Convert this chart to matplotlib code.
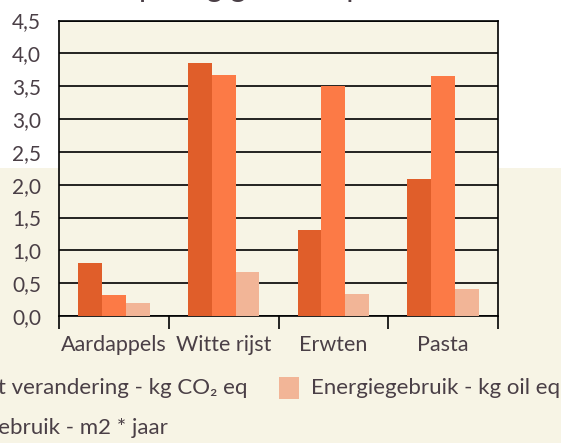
import matplotlib
matplotlib.use("Agg")
import matplotlib.pyplot as plt
from matplotlib.patches import Rectangle
import numpy as np

categories = ["Aardappels", "Witte rijst", "Erwten", "Pasta"]
klimaat = [0.80, 3.86, 1.31, 2.09]
land = [0.32, 3.67, 3.51, 3.65]
energie = [0.20, 0.67, 0.34, 0.41]
series_names = ["Klimaat verandering - kg CO\u2082 eq", "Landgebruik - m2 * jaar", "Energiegebruik - kg oil eq"]
yticks = [0.0, 0.5, 1.0, 1.5, 2.0, 2.5, 3.0, 3.5, 4.0, 4.5]
ytick_labels = ["0,0", "0,5", "1,0", "1,5", "2,0", "2,5", "3,0", "3,5", "4,0", "4,5"]

c_dark = "#E05E2A"
c_mid = "#FC7A46"
c_light = "#F2B597"
beige = "#F7F4E5"
txt = "#4A3F46"
FONT = ["Lato", "DejaVu Sans"]
plt.rcParams["font.family"] = FONT

W, H = 561, 443
fig = plt.figure(figsize=(W / 100, H / 100), dpi=100, facecolor="white")

def fx(px):
    return px / W

def fy(py):
    return 1 - py / H

# beige lower band (behind axes)
fig.patches.append(Rectangle((0, 0), 1, fy(168), transform=fig.transFigure,
                             facecolor=beige, edgecolor="none", zorder=-5))

ax = fig.add_axes([fx(59), fy(316), fx(498) - fx(59), fy(20.5) - fy(316)])
ax.set_zorder(2)
ax.set_facecolor(beige)

x = np.arange(len(categories))
bw = 0.217
ax.bar(x - bw, klimaat, bw, color=c_dark, zorder=3)
ax.bar(x, land, bw, color=c_mid, zorder=3)
ax.bar(x + bw, energie, bw, color=c_light, zorder=3)

ax.set_xlim(-0.5, 3.5)
ax.set_ylim(0, 4.5)
ax.set_yticks(yticks)
ax.set_yticklabels(ytick_labels, fontsize=15, color=txt)
ax.tick_params(axis="y", length=0, pad=13)
ax.yaxis.grid(True, color="black", linewidth=1.2, zorder=1)
ax.set_axisbelow(True)

ax.set_xticks(x)
ax.set_xticklabels(categories, fontsize=15.5, color=txt)
ax.tick_params(axis="x", which="major", length=0, pad=14)
ax.set_xticks(np.arange(-0.5, 4.0, 1.0), minor=True)
ax.tick_params(axis="x", which="minor", length=9, width=1.2, color="black")

for s in ax.spines.values():
    s.set_color("black")
    s.set_linewidth(1.2)

# partially visible title (only descenders show)
fig.text(fx(139), fy(-3.2), "per kg gekookt product", fontsize=22, color=txt,
         ha="left", va="baseline")
fig.text(fx(131), fy(-3.2), "Milieuscore", fontsize=22, color=txt,
         ha="right", va="baseline")

# legend (partially cut at left edge)
fig.patches.append(Rectangle((fx(279), fy(399)), fx(20), fy(377) - fy(399),
                             transform=fig.transFigure, facecolor=c_light,
                             edgecolor="none", zorder=2))
fig.text(fx(311), fy(394), series_names[2], fontsize=16, color=txt,
         ha="left", va="baseline")
fig.text(fx(247), fy(394), series_names[0], fontsize=16, color=txt,
         ha="right", va="baseline")
fig.text(fx(168), fy(434), series_names[1], fontsize=16, color=txt,
         ha="right", va="baseline")

fig.savefig("out.png", dpi=100, facecolor="white")
